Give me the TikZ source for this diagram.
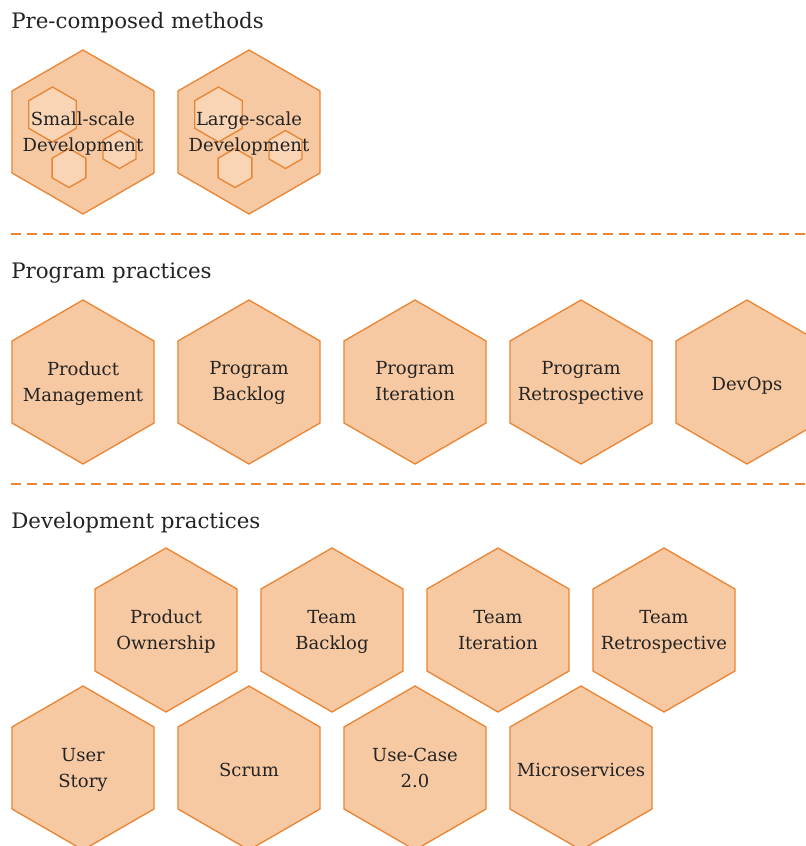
\documentclass[tikz,border=0pt]{standalone}
\usepackage{fontspec}
\setmainfont{DejaVu Serif}

\definecolor{hexline}{HTML}{EA8534}
\definecolor{hexfill}{HTML}{F7C9A3}
\definecolor{hexlight}{HTML}{F9D4B5}
\definecolor{inkgray}{HTML}{232323}

% pointy-top hexagon of radius #1 round the current origin
\newcommand{\hexpath}[1]{(90:#1) -- (150:#1) -- (210:#1) -- (270:#1) -- (330:#1) -- (30:#1) -- cycle}

\tikzset{
  hexbody/.style={draw=hexline, fill=hexfill, line width=1pt, line join=miter},
  minihex/.style={draw=hexline, fill=hexlight, line width=1pt},
  hexlabel/.style={align=center, text=inkgray, inner sep=0pt, yshift=-2.5pt,
    font=\fontsize{13.5}{19.5}\selectfont,
    execute at begin node=\strut, execute at end node=\strut},
  heading/.style={anchor=base west, text=inkgray, inner sep=0pt,
    font=\fontsize{16}{20}\selectfont},
  divider/.style={hexline, line width=1.9pt, dash pattern=on 7.5pt off 4.5pt}
}

\begin{document}
\begin{tikzpicture}[x=0.75pt,y=-0.75pt]
  \useasboundingbox (0,0) rectangle (806,846);
  \clip (0,0) rectangle (806,846);

  % Pre-composed methods
  \node[heading] (precomp) at (11,28) {Pre-composed methods};

  \draw[hexbody, shift={(83,132)}] \hexpath{82};
  \draw[minihex, shift={(52.5,114.5)}] \hexpath{27.5};
  \draw[minihex, shift={(69,168)}] \hexpath{19.5};
  \draw[minihex, shift={(119.5,149.5)}] \hexpath{19};
  \node[hexlabel] (small) at (83,132) {Small-scale\\Development};

  \draw[hexbody, shift={(249,132)}] \hexpath{82};
  \draw[minihex, shift={(218.5,114.5)}] \hexpath{27.5};
  \draw[minihex, shift={(235,168)}] \hexpath{19.5};
  \draw[minihex, shift={(285.5,149.5)}] \hexpath{19};
  \node[hexlabel] (large) at (249,132) {Large-scale\\Development};

  \coordinate (cutA) at (11,234);
  \coordinate (cutA') at (806,234);
  \draw[divider] (cutA) -- (cutA');

  % Program practices
  \node[heading] (program) at (11,278) {Program practices};

  \draw[hexbody, shift={(83,382)}] \hexpath{82};
  \draw[hexbody, shift={(249,382)}] \hexpath{82};
  \draw[hexbody, shift={(415,382)}] \hexpath{82};
  \draw[hexbody, shift={(581,382)}] \hexpath{82};
  \draw[hexbody, shift={(747,382)}] \hexpath{82};

  \node[hexlabel] (prodmgmt) at (83,382) {Product\\Management};
  \node[hexlabel] (progbacklog) at (249,382) {Program\\Backlog};
  \node[hexlabel] (progiter) at (415,382) {Program\\Iteration};
  \node[hexlabel] (progretro) at (581,382) {Program\\Retrospective};
  \node[hexlabel] (devops) at (747,382) {DevOps};

  \coordinate (cutB) at (11,484);
  \coordinate (cutB') at (806,484);
  \draw[divider] (cutB) -- (cutB');

  % Development practices
  \node[heading] (develop) at (11,528) {Development practices};

  \draw[hexbody, shift={(166,630)}] \hexpath{82};
  \draw[hexbody, shift={(332,630)}] \hexpath{82};
  \draw[hexbody, shift={(498,630)}] \hexpath{82};
  \draw[hexbody, shift={(664,630)}] \hexpath{82};

  \node[hexlabel] (prodown) at (166,630) {Product\\Ownership};
  \node[hexlabel] (teambacklog) at (332,630) {Team\\Backlog};
  \node[hexlabel] (teamiter) at (498,630) {Team\\Iteration};
  \node[hexlabel] (teamretro) at (664,630) {Team\\Retrospective};

  \draw[hexbody, shift={(83,768)}] \hexpath{82};
  \draw[hexbody, shift={(249,768)}] \hexpath{82};
  \draw[hexbody, shift={(415,768)}] \hexpath{82};
  \draw[hexbody, shift={(581,768)}] \hexpath{82};

  \node[hexlabel] (userstory) at (83,768) {User\\Story};
  \node[hexlabel] (scrum) at (249,768) {Scrum};
  \node[hexlabel] (usecase) at (415,768) {Use-Case\\2.0};
  \node[hexlabel] (micro) at (581,768) {Microservices};
\end{tikzpicture}
\end{document}
